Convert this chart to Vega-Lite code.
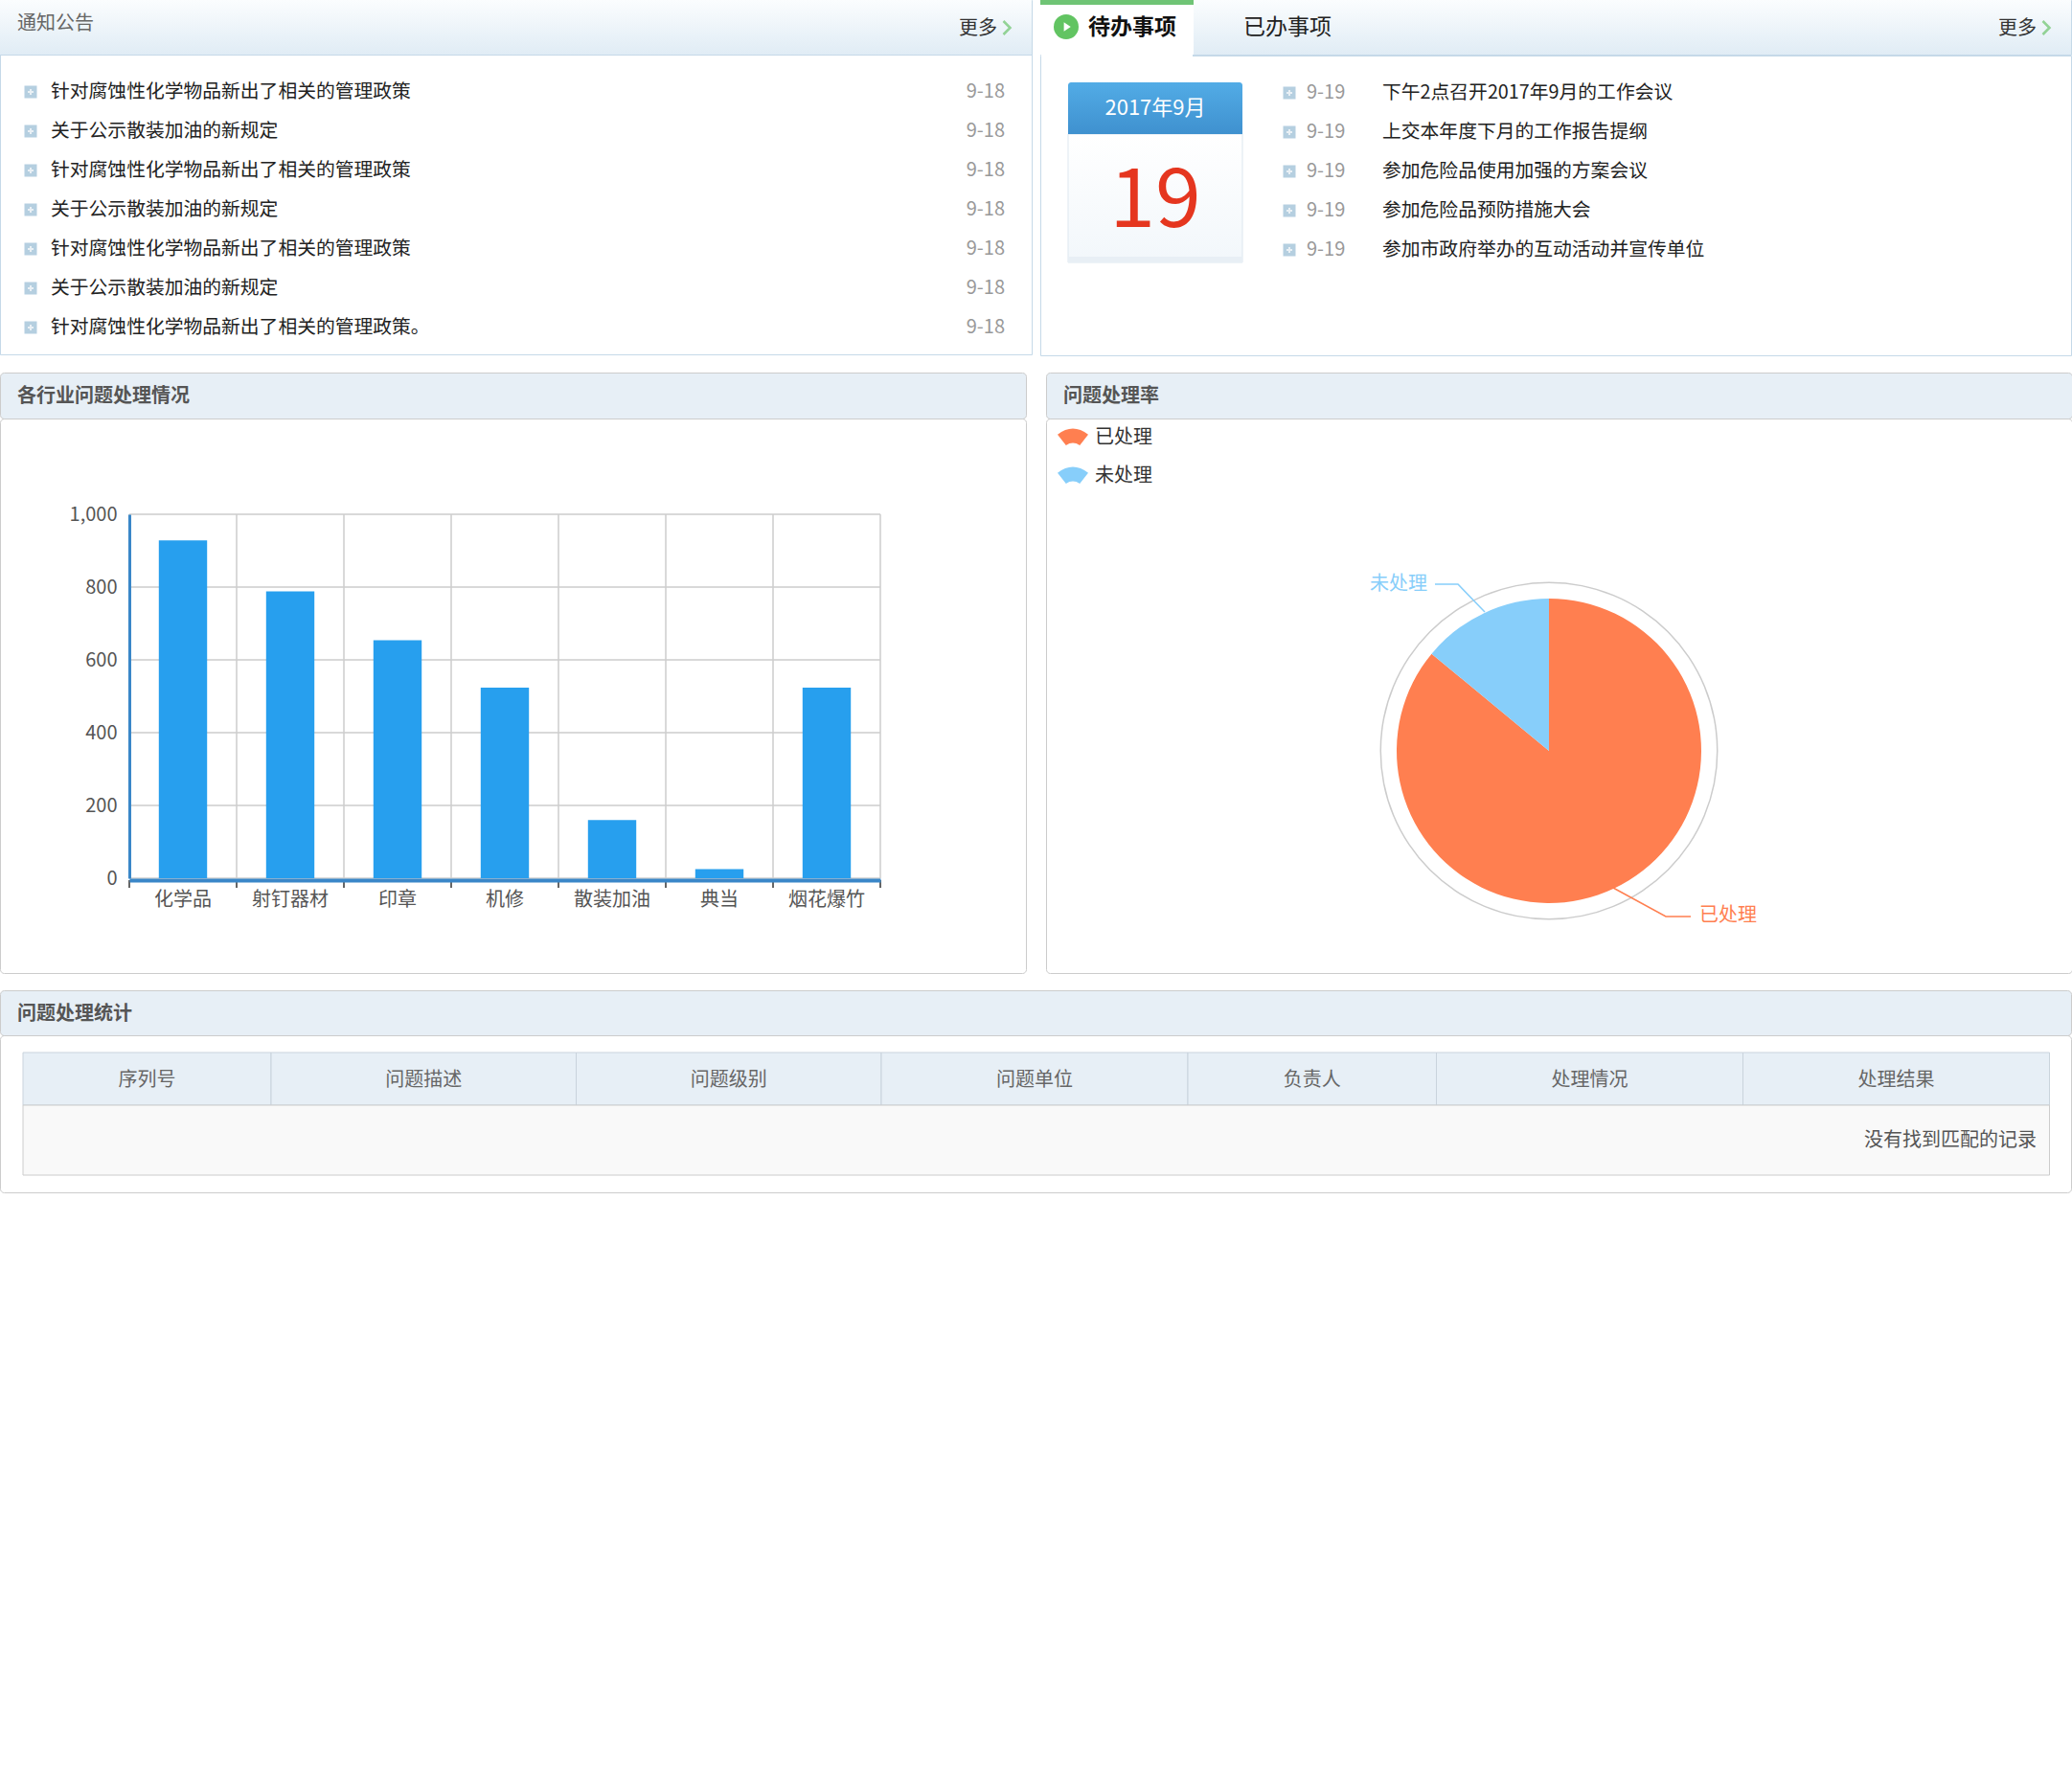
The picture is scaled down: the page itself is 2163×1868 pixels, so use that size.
{
  "$schema": "https://vega.github.io/schema/vega-lite/v6.json",
  "padding": {"left": -1, "top": -1, "right": 0, "bottom": 0},
  "background": "white",
  "spacing": 16,
  "datasets": {
    "notices": [
      {"row": 1, "title": "针对腐蚀性化学物品新出了相关的管理政策", "date": "9-18"},
      {"row": 2, "title": "关于公示散装加油的新规定", "date": "9-18"},
      {"row": 3, "title": "针对腐蚀性化学物品新出了相关的管理政策", "date": "9-18"},
      {"row": 4, "title": "关于公示散装加油的新规定", "date": "9-18"},
      {"row": 5, "title": "针对腐蚀性化学物品新出了相关的管理政策", "date": "9-18"},
      {"row": 6, "title": "关于公示散装加油的新规定", "date": "9-18"},
      {"row": 7, "title": "针对腐蚀性化学物品新出了相关的管理政策。", "date": "9-18"}
    ],
    "todos": [
      {"row": 1, "title": "下午2点召开2017年9月的工作会议", "date": "9-19"},
      {"row": 2, "title": "上交本年度下月的工作报告提纲", "date": "9-19"},
      {"row": 3, "title": "参加危险品使用加强的方案会议", "date": "9-19"},
      {"row": 4, "title": "参加危险品预防措施大会", "date": "9-19"},
      {"row": 5, "title": "参加市政府举办的互动活动并宣传单位", "date": "9-19"}
    ],
    "industry": [
      {"industry": "化学品", "count": 928},
      {"industry": "射钉器材", "count": 788},
      {"industry": "印章", "count": 654},
      {"industry": "机修", "count": 524},
      {"industry": "散装加油", "count": 160},
      {"industry": "典当", "count": 25},
      {"industry": "烟花爆竹", "count": 524}
    ],
    "rate": [
      {"status": "已处理", "share": 86, "rank": 1},
      {"status": "未处理", "share": 14, "rank": 2}
    ],
    "leaders": [
      {"status": "未处理", "step": 1, "dx": -67, "dy": -145},
      {"status": "未处理", "step": 2, "dx": -95, "dy": -174},
      {"status": "未处理", "step": 3, "dx": -119, "dy": -174},
      {"status": "已处理", "step": 1, "dx": 67, "dy": 143},
      {"status": "已处理", "step": 2, "dx": 122, "dy": 173},
      {"status": "已处理", "step": 3, "dx": 148, "dy": 173}
    ],
    "columns": [
      {"col": "序列号", "idx": 1, "w": 259},
      {"col": "问题描述", "idx": 2, "w": 318.5},
      {"col": "问题级别", "idx": 3, "w": 318.5},
      {"col": "问题单位", "idx": 4, "w": 320},
      {"col": "负责人", "idx": 5, "w": 259.5},
      {"col": "处理情况", "idx": 6, "w": 320},
      {"col": "处理结果", "idx": 7, "w": 320}
    ]
  },
  "vconcat": [
    {
      "spacing": 7,
      "hconcat": [
        {
          "spacing": 0,
          "bounds": "flush",
          "vconcat": [
            {
              "width": 1077,
              "height": 57,
              "view": {"stroke": "#c5d9e8"},
              "resolve": {"scale": {"x": "independent", "y": "independent"}},
              "layer": [
                {
                  "data": {"values": [{"part": "header"}]},
                  "mark": {"type": "rect", "fill": {"gradient": "linear", "x1": 0, "y1": 0, "x2": 0, "y2": 1, "stops": [{"offset": 0, "color": "#fbfdfe"}, {"offset": 1, "color": "#e0ecf5"}]}}
                },
                {
                  "data": {"values": [{"label": "通知公告"}]},
                  "mark": {"type": "text", "align": "left", "fontSize": 20, "color": "#666", "font": "Noto Sans CJK SC"},
                  "encoding": {
                    "text": {"field": "label"},
                    "x": {"field": "label", "type": "nominal", "scale": {"domain": ["通知公告"], "range": [18, 18], "padding": 0}, "axis": null},
                    "y": {"field": "label", "type": "nominal", "scale": {"domain": ["通知公告"], "range": [25, 25], "padding": 0}, "axis": null}
                  }
                },
                {
                  "data": {"values": [{"label": "更多"}]},
                  "mark": {"type": "text", "align": "left", "fontSize": 20, "color": "#333"},
                  "encoding": {
                    "text": {"field": "label"},
                    "x": {"field": "label", "type": "nominal", "scale": {"domain": ["更多"], "range": [1001, 1001], "padding": 0}, "axis": null},
                    "y": {"field": "label", "type": "nominal", "scale": {"domain": ["更多"], "range": [30, 30], "padding": 0}, "axis": null}
                  }
                },
                {
                  "data": {"values": [{"label": "更多"}]},
                  "mark": {"type": "point", "shape": "M-0.5,-1L0.5,0L-0.5,1", "filled": false, "stroke": "#6cc56c", "strokeWidth": 2.5, "size": 196},
                  "encoding": {
                    "x": {"field": "label", "type": "nominal", "scale": {"domain": ["更多"], "range": [1051, 1051], "padding": 0}, "axis": null},
                    "y": {"field": "label", "type": "nominal", "scale": {"domain": ["更多"], "range": [29, 29], "padding": 0}, "axis": null}
                  }
                }
              ]
            },
            {
              "width": 1077,
              "height": 313,
              "view": {"stroke": "#c5d9e8"},
              "data": {"name": "notices"},
              "resolve": {"scale": {"x": "independent", "y": "independent"}},
              "layer": [
                {
                  "mark": {"type": "point", "shape": "square", "filled": true, "size": 169, "color": "#b5cfe0", "opacity": 1},
                  "encoding": {
                    "x": {"datum": "icon", "scale": {"domain": ["icon"], "range": [32, 32], "padding": 0}, "axis": null},
                    "y": {"field": "row", "type": "ordinal", "scale": {"domain": [1, 2, 3, 4, 5, 6, 7], "range": [39, 285], "padding": 0}, "axis": null}
                  }
                },
                {
                  "mark": {"type": "point", "shape": "M-1,0L1,0M0,-1L0,1", "filled": false, "stroke": "white", "strokeWidth": 2, "size": 36},
                  "encoding": {
                    "x": {"datum": "icon", "scale": {"domain": ["icon"], "range": [32, 32], "padding": 0}, "axis": null},
                    "y": {"field": "row", "type": "ordinal", "scale": {"domain": [1, 2, 3, 4, 5, 6, 7], "range": [39, 285], "padding": 0}, "axis": null}
                  }
                },
                {
                  "mark": {"type": "text", "align": "left", "fontSize": 19.8, "color": "#222"},
                  "encoding": {
                    "text": {"field": "title"},
                    "x": {"datum": "title", "scale": {"domain": ["title"], "range": [53, 53], "padding": 0}, "axis": null},
                    "y": {"field": "row", "type": "ordinal", "scale": {"domain": [1, 2, 3, 4, 5, 6, 7], "range": [39, 285], "padding": 0}, "axis": null}
                  }
                },
                {
                  "mark": {"type": "text", "align": "right", "fontSize": 20, "color": "#999"},
                  "encoding": {
                    "text": {"field": "date"},
                    "x": {"datum": "date", "scale": {"domain": ["date"], "range": [1049, 1049], "padding": 0}, "axis": null},
                    "y": {"field": "row", "type": "ordinal", "scale": {"domain": [1, 2, 3, 4, 5, 6, 7], "range": [39, 285], "padding": 0}, "axis": null}
                  }
                }
              ]
            }
          ]
        },
        {
          "spacing": -3,
          "vconcat": [
            {
              "spacing": 0,
              "bounds": "flush",
              "hconcat": [
                {
                  "width": 160,
                  "height": 57,
                  "view": {"stroke": "#c5d9e8"},
                  "resolve": {"scale": {"x": "independent", "y": "independent"}},
                  "layer": [
                    {
                      "data": {"values": [{"part": "tab"}]},
                      "mark": {"type": "rect", "fill": {"gradient": "linear", "x1": 0, "y1": 0, "x2": 0, "y2": 1, "stops": [{"offset": 0, "color": "#6fc475"}, {"offset": 0.085, "color": "#6fc475"}, {"offset": 0.085, "color": "white"}, {"offset": 1, "color": "white"}]}}
                    },
                    {
                      "data": {"values": [{"part": "icon"}]},
                      "mark": {"type": "point", "shape": "circle", "filled": true, "size": 676, "color": "#62c462", "opacity": 1},
                      "encoding": {
                        "x": {"datum": "icon", "scale": {"domain": ["icon"], "range": [27, 27], "padding": 0}, "axis": null},
                        "y": {"datum": "icon", "scale": {"domain": ["icon"], "range": [28, 28], "padding": 0}, "axis": null}
                      }
                    },
                    {
                      "data": {"values": [{"part": "icon"}]},
                      "mark": {"type": "point", "shape": "M-0.5,-1L1,0L-0.5,1Z", "filled": true, "size": 90, "color": "white", "opacity": 1},
                      "encoding": {
                        "x": {"datum": "icon", "scale": {"domain": ["icon"], "range": [27, 27], "padding": 0}, "axis": null},
                        "y": {"datum": "icon", "scale": {"domain": ["icon"], "range": [28, 28], "padding": 0}, "axis": null}
                      }
                    },
                    {
                      "data": {"values": [{"label": "待办事项"}]},
                      "mark": {"type": "text", "align": "left", "fontSize": 23, "fontWeight": "bold", "color": "#111"},
                      "encoding": {
                        "text": {"field": "label"},
                        "x": {"field": "label", "type": "nominal", "scale": {"domain": ["待办事项"], "range": [50, 50], "padding": 0}, "axis": null},
                        "y": {"field": "label", "type": "nominal", "scale": {"domain": ["待办事项"], "range": [29, 29], "padding": 0}, "axis": null}
                      }
                    }
                  ]
                },
                {
                  "width": 916,
                  "height": 57,
                  "view": {"stroke": "#c5d9e8"},
                  "resolve": {"scale": {"x": "independent", "y": "independent"}},
                  "layer": [
                    {
                      "data": {"values": [{"part": "header"}]},
                      "mark": {"type": "rect", "fill": {"gradient": "linear", "x1": 0, "y1": 0, "x2": 0, "y2": 1, "stops": [{"offset": 0, "color": "#fbfdfe"}, {"offset": 1, "color": "#e0ecf5"}]}}
                    },
                    {
                      "data": {"values": [{"label": "已办事项"}]},
                      "mark": {"type": "text", "align": "left", "fontSize": 23, "color": "#222"},
                      "encoding": {
                        "text": {"field": "label"},
                        "x": {"field": "label", "type": "nominal", "scale": {"domain": ["已办事项"], "range": [52, 52], "padding": 0}, "axis": null},
                        "y": {"field": "label", "type": "nominal", "scale": {"domain": ["已办事项"], "range": [29, 29], "padding": 0}, "axis": null}
                      }
                    },
                    {
                      "data": {"values": [{"label": "更多"}]},
                      "mark": {"type": "text", "align": "left", "fontSize": 20, "color": "#333"},
                      "encoding": {
                        "text": {"field": "label"},
                        "x": {"field": "label", "type": "nominal", "scale": {"domain": ["更多"], "range": [840, 840], "padding": 0}, "axis": null},
                        "y": {"field": "label", "type": "nominal", "scale": {"domain": ["更多"], "range": [30, 30], "padding": 0}, "axis": null}
                      }
                    },
                    {
                      "data": {"values": [{"label": "更多"}]},
                      "mark": {"type": "point", "shape": "M-0.5,-1L0.5,0L-0.5,1", "filled": false, "stroke": "#6cc56c", "strokeWidth": 2.5, "size": 196},
                      "encoding": {
                        "x": {"field": "label", "type": "nominal", "scale": {"domain": ["更多"], "range": [890, 890], "padding": 0}, "axis": null},
                        "y": {"field": "label", "type": "nominal", "scale": {"domain": ["更多"], "range": [29, 29], "padding": 0}, "axis": null}
                      }
                    }
                  ]
                }
              ]
            },
            {
              "width": 1076,
              "height": 313,
              "view": {"stroke": "#c5d9e8"},
              "resolve": {"scale": {"x": "independent", "y": "independent"}},
              "layer": [
                {
                  "data": {"values": [{"part": "tab gap"}]},
                  "mark": {"type": "rect", "color": "white", "opacity": 1},
                  "encoding": {
                    "x": {"datum": 0, "type": "quantitative", "scale": {"domain": [0, 1], "range": [1, 159]}, "axis": null},
                    "x2": {"datum": 1},
                    "y": {"datum": 0, "type": "quantitative", "scale": {"domain": [0, 1], "range": [-1, 1]}, "axis": null},
                    "y2": {"datum": 1}
                  }
                },
                {
                  "data": {"values": [{"part": "calendar body"}]},
                  "mark": {"type": "rect", "stroke": "#dde7ef", "fill": {"gradient": "linear", "x1": 0, "y1": 0, "x2": 0, "y2": 1, "stops": [{"offset": 0, "color": "#ffffff"}, {"offset": 1, "color": "#f2f7fb"}]}},
                  "encoding": {
                    "x": {"datum": 0, "type": "quantitative", "scale": {"domain": [0, 1], "range": [29, 211]}, "axis": null},
                    "x2": {"datum": 1},
                    "y": {"datum": 0, "type": "quantitative", "scale": {"domain": [0, 1], "range": [82, 216]}, "axis": null},
                    "y2": {"datum": 1}
                  }
                },
                {
                  "data": {"values": [{"part": "calendar foot"}]},
                  "mark": {"type": "rect", "color": "#e8eff5", "opacity": 1},
                  "encoding": {
                    "x": {"datum": 0, "type": "quantitative", "scale": {"domain": [0, 1], "range": [29, 211]}, "axis": null},
                    "x2": {"datum": 1},
                    "y": {"datum": 0, "type": "quantitative", "scale": {"domain": [0, 1], "range": [210, 216]}, "axis": null},
                    "y2": {"datum": 1}
                  }
                },
                {
                  "data": {"values": [{"part": "calendar head"}]},
                  "mark": {"type": "rect", "cornerRadiusTopLeft": 3, "cornerRadiusTopRight": 3, "fill": {"gradient": "linear", "x1": 0, "y1": 0, "x2": 0, "y2": 1, "stops": [{"offset": 0, "color": "#52ace6"}, {"offset": 1, "color": "#3f91cf"}]}},
                  "encoding": {
                    "x": {"datum": 0, "type": "quantitative", "scale": {"domain": [0, 1], "range": [29, 211]}, "axis": null},
                    "x2": {"datum": 1},
                    "y": {"datum": 0, "type": "quantitative", "scale": {"domain": [0, 1], "range": [28, 82]}, "axis": null},
                    "y2": {"datum": 1}
                  }
                },
                {
                  "data": {"values": [{"label": "2017年9月"}]},
                  "mark": {"type": "text", "fontSize": 22, "color": "white"},
                  "encoding": {
                    "text": {"field": "label"},
                    "x": {"field": "label", "type": "nominal", "scale": {"domain": ["2017年9月"], "range": [120, 120], "padding": 0}, "axis": null},
                    "y": {"field": "label", "type": "nominal", "scale": {"domain": ["2017年9月"], "range": [55, 55], "padding": 0}, "axis": null}
                  }
                },
                {
                  "data": {"values": [{"label": "19"}]},
                  "mark": {"type": "text", "fontSize": 86, "color": "#e5361f"},
                  "encoding": {
                    "text": {"field": "label"},
                    "x": {"field": "label", "type": "nominal", "scale": {"domain": ["19"], "range": [120, 120], "padding": 0}, "axis": null},
                    "y": {"field": "label", "type": "nominal", "scale": {"domain": ["19"], "range": [153, 153], "padding": 0}, "axis": null}
                  }
                },
                {
                  "data": {"name": "todos"},
                  "mark": {"type": "point", "shape": "square", "filled": true, "size": 169, "color": "#b5cfe0", "opacity": 1},
                  "encoding": {
                    "x": {"datum": "icon", "scale": {"domain": ["icon"], "range": [260, 260], "padding": 0}, "axis": null},
                    "y": {"field": "row", "type": "ordinal", "scale": {"domain": [1, 2, 3, 4, 5], "range": [39, 203], "padding": 0}, "axis": null}
                  }
                },
                {
                  "data": {"name": "todos"},
                  "mark": {"type": "point", "shape": "M-1,0L1,0M0,-1L0,1", "filled": false, "stroke": "white", "strokeWidth": 2, "size": 36},
                  "encoding": {
                    "x": {"datum": "icon", "scale": {"domain": ["icon"], "range": [260, 260], "padding": 0}, "axis": null},
                    "y": {"field": "row", "type": "ordinal", "scale": {"domain": [1, 2, 3, 4, 5], "range": [39, 203], "padding": 0}, "axis": null}
                  }
                },
                {
                  "data": {"name": "todos"},
                  "mark": {"type": "text", "align": "left", "fontSize": 20, "color": "#999"},
                  "encoding": {
                    "text": {"field": "date"},
                    "x": {"datum": "date", "scale": {"domain": ["date"], "range": [278, 278], "padding": 0}, "axis": null},
                    "y": {"field": "row", "type": "ordinal", "scale": {"domain": [1, 2, 3, 4, 5], "range": [39, 203], "padding": 0}, "axis": null}
                  }
                },
                {
                  "data": {"name": "todos"},
                  "mark": {"type": "text", "align": "left", "fontSize": 19.8, "color": "#222"},
                  "encoding": {
                    "text": {"field": "title"},
                    "x": {"datum": "title", "scale": {"domain": ["title"], "range": [357, 357], "padding": 0}, "axis": null},
                    "y": {"field": "row", "type": "ordinal", "scale": {"domain": [1, 2, 3, 4, 5], "range": [39, 203], "padding": 0}, "axis": null}
                  }
                }
              ]
            }
          ]
        }
      ]
    },
    {
      "spacing": 19,
      "hconcat": [
        {
          "spacing": 0,
          "bounds": "flush",
          "vconcat": [
            {
              "width": 1071,
              "height": 48,
              "view": {"stroke": "#ccc", "fill": "#e7eff6", "cornerRadius": 4},
              "data": {"values": [{"label": "各行业问题处理情况"}]},
              "mark": {"type": "text", "align": "left", "fontSize": 20, "fontWeight": "bold", "color": "#555"},
              "encoding": {
                "text": {"field": "label"},
                "x": {"field": "label", "type": "nominal", "scale": {"domain": ["各行业问题处理情况"], "range": [18, 18], "padding": 0}, "axis": null},
                "y": {"field": "label", "type": "nominal", "scale": {"domain": ["各行业问题处理情况"], "range": [25, 25], "padding": 0}, "axis": null}
              }
            },
            {
              "width": 1071,
              "height": 579,
              "view": {"stroke": "#ccc", "cornerRadius": 4},
              "resolve": {"scale": {"x": "independent", "y": "independent"}},
              "layer": [
                {
                  "data": {"values": [{"edge": 0}, {"edge": 1}, {"edge": 2}, {"edge": 3}, {"edge": 4}, {"edge": 5}, {"edge": 6}, {"edge": 7}]},
                  "mark": {"type": "rule", "color": "#ccc", "strokeWidth": 1.5},
                  "encoding": {
                    "x": {"field": "edge", "type": "quantitative", "scale": {"domain": [0, 7], "range": [135, 919]}, "axis": null},
                    "y": {"datum": 0, "type": "quantitative", "scale": {"domain": [0, 1000], "range": [480, 100]}, "axis": null},
                    "y2": {"datum": 1000}
                  }
                },
                {
                  "data": {"values": [{"tick": 0}, {"tick": 200}, {"tick": 400}, {"tick": 600}, {"tick": 800}, {"tick": 1000}]},
                  "mark": {"type": "rule", "color": "#ccc", "strokeWidth": 1.5},
                  "encoding": {
                    "y": {"field": "tick", "type": "quantitative", "scale": {"domain": [0, 1000], "range": [480, 100]}, "axis": null},
                    "x": {"datum": 0, "type": "quantitative", "scale": {"domain": [0, 7], "range": [135, 919]}, "axis": null},
                    "x2": {"datum": 7}
                  }
                },
                {
                  "data": {"values": [{"edge": 0}, {"edge": 1}, {"edge": 2}, {"edge": 3}, {"edge": 4}, {"edge": 5}, {"edge": 6}, {"edge": 7}]},
                  "mark": {"type": "rule", "color": "#333", "strokeWidth": 1.5},
                  "encoding": {
                    "x": {"field": "edge", "type": "quantitative", "scale": {"domain": [0, 7], "range": [135, 919]}, "axis": null},
                    "y": {"datum": 0, "type": "quantitative", "scale": {"domain": [0, 1], "range": [482, 490]}, "axis": null},
                    "y2": {"datum": 1}
                  }
                },
                {
                  "data": {"name": "industry"},
                  "mark": {"type": "bar", "color": "#279fee"},
                  "encoding": {
                    "x": {
                      "field": "industry",
                      "type": "nominal",
                      "sort": null,
                      "scale": {"range": [135, 919], "paddingInner": 0.55, "paddingOuter": 0.275},
                      "axis": {"title": null, "orient": "bottom", "offset": -97, "labelAngle": 0, "labelFontSize": 20, "labelColor": "#555", "labelPadding": 10, "domainColor": "#3a87c8", "domainWidth": 4, "ticks": false, "grid": false, "zindex": 1}
                    },
                    "y": {
                      "field": "count",
                      "type": "quantitative",
                      "scale": {"domain": [0, 1000], "range": [480, 100]},
                      "axis": {"title": null, "orient": "left", "offset": -135, "values": [0, 200, 400, 600, 800, 1000], "format": ",d", "labelFontSize": 20, "labelColor": "#555", "labelPadding": 13, "domainColor": "#3a87c8", "domainWidth": 3, "ticks": false, "grid": false, "zindex": 1}
                    }
                  }
                }
              ]
            }
          ]
        },
        {
          "spacing": 0,
          "bounds": "flush",
          "vconcat": [
            {
              "width": 1071,
              "height": 48,
              "view": {"stroke": "#ccc", "fill": "#e7eff6", "cornerRadius": 4},
              "data": {"values": [{"label": "问题处理率"}]},
              "mark": {"type": "text", "align": "left", "fontSize": 20, "fontWeight": "bold", "color": "#555"},
              "encoding": {
                "text": {"field": "label"},
                "x": {"field": "label", "type": "nominal", "scale": {"domain": ["问题处理率"], "range": [18, 18], "padding": 0}, "axis": null},
                "y": {"field": "label", "type": "nominal", "scale": {"domain": ["问题处理率"], "range": [25, 25], "padding": 0}, "axis": null}
              }
            },
            {
              "width": 1071,
              "height": 579,
              "view": {"stroke": "#ccc", "cornerRadius": 4},
              "resolve": {"scale": {"x": "independent", "y": "independent"}},
              "layer": [
                {
                  "data": {"values": [{"part": "ring", "full": 100}]},
                  "mark": {"type": "arc", "innerRadius": 175, "outerRadius": 176.5, "color": "#ccc"},
                  "encoding": {
                    "theta": {"field": "full", "type": "quantitative"},
                    "x": {"datum": "center", "scale": {"domain": ["center"], "range": [525, 525], "padding": 0}, "axis": null},
                    "y": {"datum": "center", "scale": {"domain": ["center"], "range": [347, 347], "padding": 0}, "axis": null}
                  }
                },
                {
                  "data": {"name": "rate"},
                  "mark": {"type": "arc", "outerRadius": 159},
                  "encoding": {
                    "theta": {"field": "share", "type": "quantitative"},
                    "order": {"field": "rank"},
                    "color": {
                      "field": "status",
                      "type": "nominal",
                      "scale": {"domain": ["已处理", "未处理"], "range": ["#ff7f50", "#87cefa"]},
                      "legend": {"title": null, "orient": "none", "legendX": 1104, "legendY": 441, "symbolType": "M-1,-0.2Q0,-1 1,-0.2L0.45,0.5Q0,0.2 -0.45,0.5Z", "symbolSize": 1024, "symbolStrokeWidth": 0, "labelFontSize": 20, "labelColor": "#333", "labelOffset": 7, "rowPadding": 14}
                    },
                    "x": {"datum": "center", "scale": {"domain": ["center"], "range": [525, 525], "padding": 0}, "axis": null},
                    "y": {"datum": "center", "scale": {"domain": ["center"], "range": [347, 347], "padding": 0}, "axis": null}
                  }
                },
                {
                  "data": {"name": "leaders"},
                  "mark": {"type": "line", "strokeWidth": 1.5},
                  "encoding": {
                    "x": {"field": "dx", "type": "quantitative", "scale": {"domain": [-525, 546], "range": [0, 1071]}, "axis": null},
                    "y": {"field": "dy", "type": "quantitative", "scale": {"domain": [-347, 232], "range": [0, 579]}, "axis": null},
                    "order": {"field": "step"},
                    "color": {"field": "status", "type": "nominal", "scale": {"domain": ["已处理", "未处理"], "range": ["#ff7f50", "#87cefa"]}, "legend": null}
                  }
                },
                {
                  "data": {"values": [{"status": "未处理", "dx": -127, "dy": -174}]},
                  "mark": {"type": "text", "align": "right", "fontSize": 20},
                  "encoding": {
                    "text": {"field": "status"},
                    "x": {"field": "dx", "type": "quantitative", "scale": {"domain": [-525, 546], "range": [0, 1071]}, "axis": null},
                    "y": {"field": "dy", "type": "quantitative", "scale": {"domain": [-347, 232], "range": [0, 579]}, "axis": null},
                    "color": {"field": "status", "type": "nominal", "scale": {"domain": ["已处理", "未处理"], "range": ["#ff7f50", "#87cefa"]}, "legend": null}
                  }
                },
                {
                  "data": {"values": [{"status": "已处理", "dx": 157, "dy": 172}]},
                  "mark": {"type": "text", "align": "left", "fontSize": 20},
                  "encoding": {
                    "text": {"field": "status"},
                    "x": {"field": "dx", "type": "quantitative", "scale": {"domain": [-525, 546], "range": [0, 1071]}, "axis": null},
                    "y": {"field": "dy", "type": "quantitative", "scale": {"domain": [-347, 232], "range": [0, 579]}, "axis": null},
                    "color": {"field": "status", "type": "nominal", "scale": {"domain": ["已处理", "未处理"], "range": ["#ff7f50", "#87cefa"]}, "legend": null}
                  }
                }
              ]
            }
          ]
        }
      ]
    },
    {
      "spacing": 0,
      "bounds": "flush",
      "vconcat": [
        {
          "width": 2162,
          "height": 47,
          "view": {"stroke": "#ccc", "fill": "#e7eff6", "cornerRadius": 4},
          "data": {"values": [{"label": "问题处理统计"}]},
          "mark": {"type": "text", "align": "left", "fontSize": 20, "fontWeight": "bold", "color": "#555"},
          "encoding": {
            "text": {"field": "label"},
            "x": {"field": "label", "type": "nominal", "scale": {"domain": ["问题处理统计"], "range": [18, 18], "padding": 0}, "axis": null},
            "y": {"field": "label", "type": "nominal", "scale": {"domain": ["问题处理统计"], "range": [25, 25], "padding": 0}, "axis": null}
          }
        },
        {
          "width": 2162,
          "height": 164,
          "view": {"stroke": "#ccc", "cornerRadius": 4},
          "resolve": {"scale": {"x": "independent", "y": "independent"}},
          "layer": [
            {
              "data": {"name": "columns"},
              "transform": [{"stack": "w", "sort": [{"field": "idx", "order": "ascending"}], "as": ["x0", "x1"]}],
              "mark": {"type": "rect", "color": "#e7eff6", "opacity": 1, "stroke": "#c9d3dc", "strokeWidth": 1},
              "encoding": {
                "x": {"field": "x0", "type": "quantitative", "scale": {"domain": [0, 2115.5], "range": [24, 2139.5]}, "axis": null},
                "x2": {"field": "x1"},
                "y": {"datum": 0, "type": "quantitative", "scale": {"domain": [0, 1], "range": [18, 73]}, "axis": null},
                "y2": {"datum": 1}
              }
            },
            {
              "data": {"values": [{"part": "empty row"}]},
              "mark": {"type": "rect", "color": "#f9f9f9", "opacity": 1, "stroke": "#ccc", "strokeWidth": 1},
              "encoding": {
                "x": {"datum": 0, "type": "quantitative", "scale": {"domain": [0, 1], "range": [24, 2139.5]}, "axis": null},
                "x2": {"datum": 1},
                "y": {"datum": 0, "type": "quantitative", "scale": {"domain": [0, 1], "range": [73, 146]}, "axis": null},
                "y2": {"datum": 1}
              }
            },
            {
              "data": {"name": "columns"},
              "mark": {"type": "text", "fontSize": 20, "color": "#666"},
              "encoding": {
                "text": {"field": "col"},
                "x": {"field": "w", "type": "quantitative", "stack": "zero", "bandPosition": 0.5, "scale": {"domain": [0, 2115.5], "range": [24, 2139.5]}, "axis": null},
                "detail": {"field": "col"},
                "order": {"field": "idx"},
                "y": {"datum": "head", "scale": {"domain": ["head"], "range": [47, 47], "padding": 0}, "axis": null}
              }
            },
            {
              "data": {"values": [{"label": "没有找到匹配的记录"}]},
              "mark": {"type": "text", "align": "right", "fontSize": 20, "color": "#555"},
              "encoding": {
                "text": {"field": "label"},
                "x": {"field": "label", "type": "nominal", "scale": {"domain": ["没有找到匹配的记录"], "range": [2126, 2126], "padding": 0}, "axis": null},
                "y": {"field": "label", "type": "nominal", "scale": {"domain": ["没有找到匹配的记录"], "range": [110, 110], "padding": 0}, "axis": null}
              }
            }
          ]
        }
      ]
    }
  ],
  "config": {
    "font": "Noto Sans CJK SC",
    "text": {"baseline": "middle"},
    "concat": {"spacing": 0}
  }
}
